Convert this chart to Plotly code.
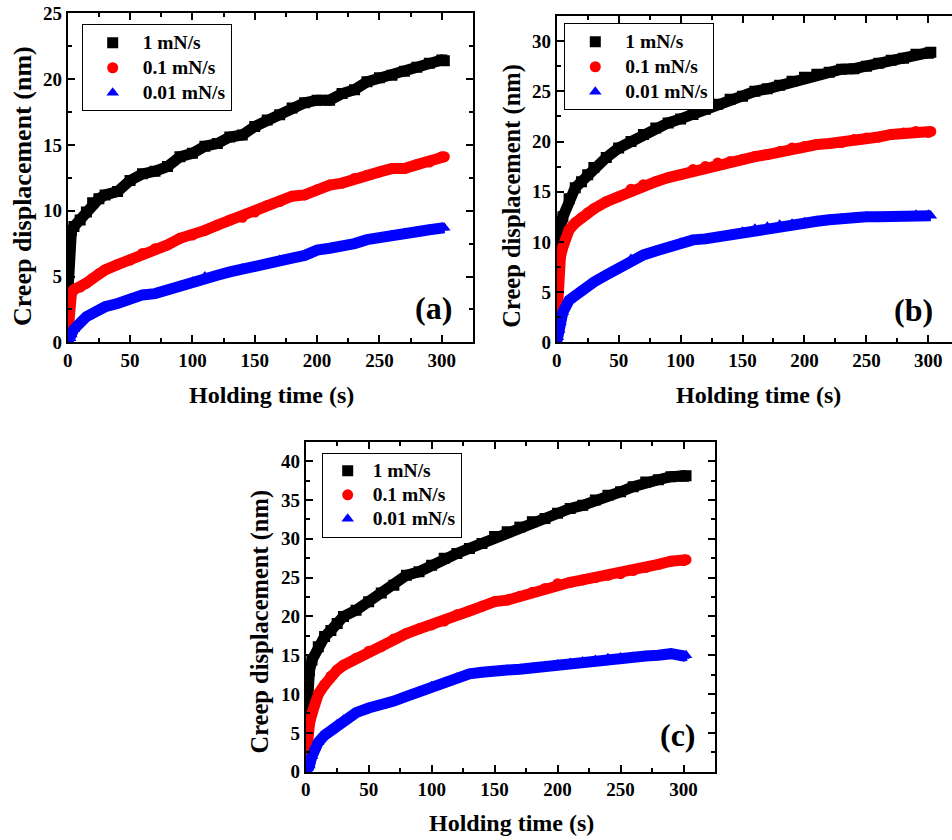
import plotly.graph_objects as go

# ---------------- data ----------------
time_s = [0, 1, 2, 3, 5, 10, 15, 20, 25, 30, 40, 50, 60, 70, 80, 90, 100, 110, 120,
          130, 140, 150, 160, 170, 180, 190, 200, 210, 220, 230, 240, 250, 260, 270,
          280, 290, 300, 302]

series_names = ["1 mN/s", "0.1 mN/s", "0.01 mN/s"]

# panel (a)
a_1 = [3.5, 7.8, 8.3, 8.5, 8.8, 9.3, 9.9, 10.6, 10.9, 11.2, 11.45, 12.3, 12.8, 13.0, 13.35,
       14.1, 14.36, 14.9, 15.1, 15.6, 15.75, 16.4, 16.9, 17.3, 17.8, 18.2, 18.4, 18.4, 18.9,
       19.2, 19.8, 20.1, 20.3, 20.6, 20.9, 21.2, 21.45, 21.4]
a_01 = [0.5, 2.8, 3.4, 3.7, 4.0, 4.2, 4.5, 4.85, 5.2, 5.5, 5.9, 6.25, 6.75, 7.1, 7.4, 7.9,
        8.15, 8.5, 8.9, 9.3, 9.5, 9.9, 10.4, 10.7, 11.1, 11.2, 11.6, 11.95, 12.1, 12.45,
        12.7, 12.95, 13.2, 13.2, 13.5, 13.7, 14.1, 14.1]
a_001 = [0.0, 0.1, 0.3, 0.6, 1.0, 1.6, 1.95, 2.2, 2.45, 2.7, 2.95, 3.3, 3.6, 3.7, 4.0, 4.25,
         4.6, 5.0, 5.1, 5.35, 5.6, 5.75, 6.0, 6.25, 6.4, 6.6, 7.0, 7.15, 7.25, 7.5, 7.8,
         7.9, 8.15, 8.3, 8.4, 8.55, 8.7, 8.7]

# panel (b)
b_1 = [5.0, 8.5, 10.5, 11.5, 12.5, 14.3, 15.4, 16.0, 16.7, 17.4, 18.4, 19.35, 20.0, 20.7,
       21.35, 21.85, 22.25, 22.7, 23.2, 23.7, 24.2, 24.5, 25.0, 25.25, 25.6, 26.0, 26.4,
       26.7, 26.9, 27.2, 27.25, 27.5, 27.8, 28.1, 28.3, 28.7, 28.8, 28.9]
b_01 = [2.0, 5.0, 7.5, 8.5, 9.5, 11.2, 11.9, 12.4, 12.9, 13.3, 14.0, 14.5, 15.25, 15.7,
        16.0, 16.4, 16.7, 17.2, 17.5, 17.85, 18.0, 18.2, 18.5, 18.7, 19.0, 19.35, 19.5,
        19.7, 19.8, 19.9, 20.2, 20.35, 20.45, 20.7, 20.85, 21.0, 20.9, 21.0]
b_001 = [0.0, 0.5, 1.2, 2.0, 3.0, 4.2, 4.7, 5.2, 5.6, 6.0, 6.7, 7.4, 8.3, 8.7, 9.1, 9.5,
         9.9, 10.2, 10.3, 10.5, 10.7, 11.0, 11.3, 11.5, 11.7, 11.8, 11.95, 12.05, 12.2,
         12.35, 12.45, 12.5, 12.5, 12.5, 12.55, 12.7, 12.7, 12.6]

# panel (c)
c_1 = [5.0, 9.0, 11.5, 13.0, 14.4, 16.1, 17.4, 18.2, 19.1, 20.0, 20.8, 21.9, 23.0, 24.0,
       25.3, 25.75, 26.6, 27.5, 28.1, 28.75, 29.4, 30.3, 30.9, 31.5, 32.2, 32.6, 33.3,
       33.9, 34.3, 35.0, 35.6, 36.05, 36.7, 37.3, 37.6, 38.0, 38.05, 38.1]
c_01 = [1.0, 3.5, 5.0, 6.2, 7.5, 10.0, 11.2, 12.3, 13.1, 13.7, 14.6, 15.5, 16.1, 17.1,
        17.8, 18.4, 18.9, 19.4, 20.2, 20.7, 21.3, 21.9, 22.1, 22.6, 23.1, 23.6, 24.2,
        24.4, 24.7, 25.0, 25.3, 25.5, 25.9, 26.3, 26.7, 27.1, 27.2, 27.3]
c_001 = [0.0, 0.2, 0.5, 0.8, 2.0, 3.8, 4.7, 5.3, 6.1, 6.7, 7.6, 8.2, 8.5, 9.1, 9.7, 10.3,
         11.0, 11.4, 12.1, 12.6, 12.8, 12.8, 13.1, 13.2, 13.4, 13.6, 13.8, 14.0, 14.2,
         14.4, 14.6, 14.7, 14.8, 14.9, 15.0, 15.2, 14.9, 15.0]

x_ticks = [0, 50, 100, 150, 200, 250, 300]
panel_labels = ["(a)", "(b)", "(c)"]
x_title = "Holding time (s)"
y_title = "Creep displacement (nm)"

# ---------------- styling ----------------
FONT = "Liberation Serif, Times New Roman, serif"
colors = ["#000000", "#ff0000", "#0000ff"]
symbols = ["square", "circle", "triangle-up"]

fig = go.Figure()

panels = [
    dict(data=[a_1, a_01, a_001], xa="x", ya="y", leg="legend"),
    dict(data=[b_1, b_01, b_001], xa="x2", ya="y2", leg="legend2"),
    dict(data=[c_1, c_01, c_001], xa="x3", ya="y3", leg="legend3"),
]

for p in panels:
    for vals, name, col, sym in zip(p["data"], series_names, colors, symbols):
        fig.add_trace(go.Scatter(
            x=time_s, y=vals, mode="lines+markers", xaxis=p["xa"], yaxis=p["ya"],
            line=dict(color=col, width=11),
            marker=dict(color=col, symbol=sym, size=11),
            showlegend=False, hoverinfo="skip"))
    for name, col, sym in zip(series_names, colors, symbols):
        fig.add_trace(go.Scatter(
            x=[None], y=[None], mode="markers", xaxis=p["xa"], yaxis=p["ya"],
            name='<span style="font-size:19.5px">%s</span>' % name, legend=p["leg"],
            marker=dict(color=col, symbol=sym, size=11)))

tickfont = dict(family=FONT, size=19, color="black", weight="bold")

def xax(domain, rng, anchor, mirror="allticks"):
    return dict(domain=domain, range=rng, anchor=anchor, tickvals=x_ticks,
                ticks="inside", ticklen=7, tickwidth=1.6, tickcolor="black",
                minor=dict(dtick=25, tick0=0, ticks="inside", ticklen=4, tickwidth=1.6,
                           tickcolor="black"),
                showline=True, linewidth=1.8, linecolor="black", mirror=mirror,
                showgrid=False, zeroline=False, tickfont=tickfont, automargin=False)

def yax(domain, rng, anchor, mirror="allticks"):
    return dict(domain=domain, range=rng, anchor=anchor, tick0=0, dtick=5,
                ticks="inside", ticklen=7, tickwidth=1.6, tickcolor="black",
                minor=dict(dtick=2.5, tick0=0, ticks="inside", ticklen=4, tickwidth=1.6,
                           tickcolor="black"),
                showline=True, linewidth=1.8, linecolor="black", mirror=mirror,
                showgrid=False, zeroline=False, tickfont=tickfont, automargin=False)

W, H = 952, 840
def px(x):
    return x / W
def py(y):
    return 1 - y / H

def leg(x, y, iw, fs):
    return dict(x=px(x), y=py(y), xanchor="left", yanchor="top",
                bordercolor="black", borderwidth=1, bgcolor="white",
                font=dict(family=FONT, size=fs, color="black", weight="bold"),
                tracegroupgap=0, itemwidth=iw)

annotations = []
def add_text(text, x, y, size, angle=0):
    annotations.append(dict(text=text, x=px(x), y=py(y), xref="paper", yref="paper",
                            showarrow=False, textangle=angle, xanchor="center",
                            yanchor="middle",
                            font=dict(family=FONT, size=size, color="black", weight="bold")))

for lab, (x, y) in zip(panel_labels, [(433, 308), (913, 310), (678, 735)]):
    add_text(lab, x, y, 32)
add_text(x_title, 271, 395, 24)
add_text(x_title, 758, 395, 24)
add_text(x_title, 511, 823, 24)
add_text(y_title, 22, 186, 26, -90)
add_text(y_title, 511.7, 196, 24.5, -90)
add_text(y_title, 259, 621.5, 24.5, -90)

fig.update_layout(
    width=W, height=H, margin=dict(l=0, r=0, t=0, b=0, autoexpand=False),
    paper_bgcolor="white", plot_bgcolor="white",
    xaxis=xax([px(67.7), px(473)], [0, 325], "y"),
    yaxis=yax([py(342.3), py(13.3)], [0, 25], "x"),
    xaxis2=xax([px(556.7), 1.0], [0, 319.1], "y2"),
    yaxis2=yax([py(342.3), py(16)], [0, 32.5], "x2", mirror=False),
    xaxis3=xax([px(305.7), px(715)], [0, 325], "y3"),
    yaxis3=yax([py(771.7), py(441.7)], [0, 42.5], "x3"),
    legend=leg(81.7, 24.3, 50, 16.9),
    legend2=leg(564.3, 23.3, 50, 16.9),
    legend3=leg(321.7, 452.7, 40, 16.2),
    annotations=annotations,
    showlegend=True,
)

fig.write_html("out.html", config={"displayModeBar": False},
               post_script="document.body.style.margin='0';document.body.style.overflow='hidden';")
